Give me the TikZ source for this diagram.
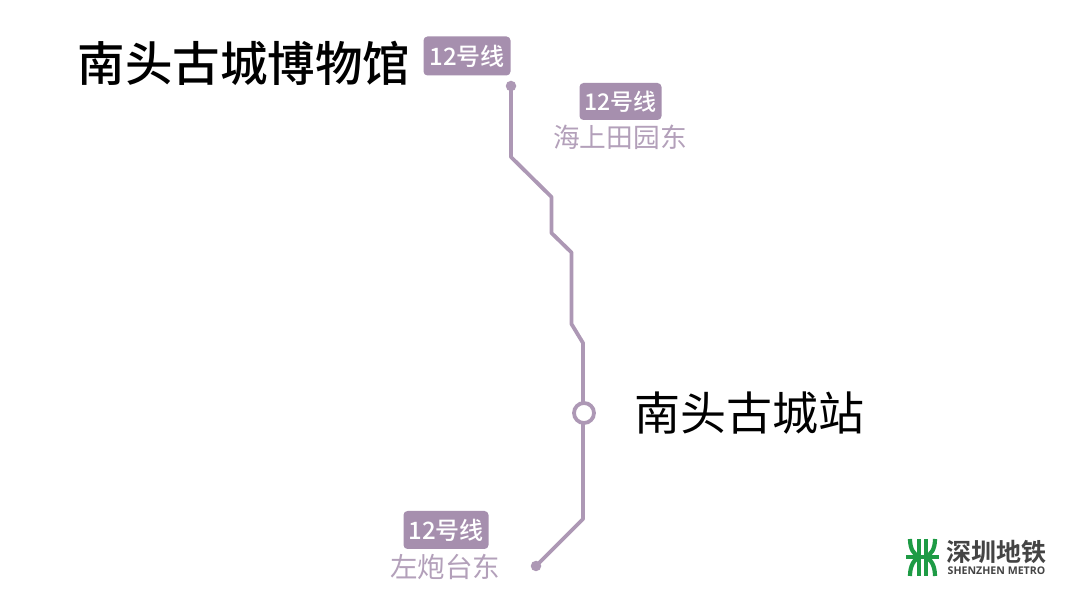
\documentclass[tikz,border=0pt]{standalone}
\usepackage{fontspec}
\setmainfont{Noto Sans CJK SC}
\newfontfamily\cjkmed{Noto Sans CJK SC Medium}
\newfontfamily\cjkbold{Noto Sans CJK SC Bold}
\newfontfamily\latinbold{Open Sans Bold}
\definecolor{linepurple}{HTML}{AD98B5}
\definecolor{badgepurple}{HTML}{A68FAE}
\definecolor{stationgrey}{HTML}{B3A0BA}
\definecolor{metrogreen}{HTML}{1E9B45}
\definecolor{metrogrey}{HTML}{444444}
\tikzset{
  x=1pt,y=-1pt,
  badge/.style={fill=badgepurple,rounded corners=4pt,text=white,font=\cjkmed\fontsize{24}{24}\selectfont,inner sep=0pt,anchor=center},
  stationname/.style={text=stationgrey,font=\fontsize{26.7}{27}\selectfont,inner sep=0pt,anchor=center},
  title/.style={text=black,inner sep=0pt,anchor=center},
  route/.style={draw=linepurple,line width=3.8pt,line join=round},
  endpoint/.style={circle,fill=linepurple,minimum size=10.5pt,inner sep=0pt},
  logostroke/.style={draw=metrogreen,line width=4.2pt}
}
\begin{document}
\begin{tikzpicture}
\useasboundingbox (0,0) rectangle (1080,593);
\fill[white] (0,0) rectangle (1080,593);
\node[title,font=\cjkmed\fontsize{47.5}{48}\selectfont] (museum) at (244,63) {南头古城博物馆};
\node[title,font=\fontsize{46}{46}\selectfont] (stationmain) at (749.5,413) {南头古城站};
\node[badge,minimum width=87pt,minimum height=39pt] (badgeA) at (467,56) {12号线};
\node[badge,minimum width=82pt,minimum height=37pt,font=\cjkmed\fontsize{23}{23}\selectfont] (badgeB) at (620.5,101.5) {12号线};
\node[stationname] (east) at (620,137) {海上田园东};
\node[badge,minimum width=85pt,minimum height=38pt] (badgeC) at (446,530) {12号线};
\node[stationname,font=\fontsize{27.5}{28}\selectfont] (west) at (445,566.5) {左炮台东};
\coordinate (a1) at (511,157);
\coordinate (a2) at (551.5,197);
\coordinate (a3) at (551.5,233);
\coordinate (a4) at (571.5,252.5);
\coordinate (a5) at (571.5,324);
\coordinate (a6) at (583,343);
\coordinate (a7) at (583,519);
\node[endpoint] (top) at (511,86) {};
\node[endpoint] (bottom) at (536,566) {};
\draw[route] (top.center) -- (a1) -- (a2) -- (a3) -- (a4) -- (a5) -- (a6) -- (a7) -- (bottom.center);
\node[circle,draw=linepurple,line width=3.8pt,fill=white,minimum size=20pt,inner sep=0pt] (here) at (584,413) {};
% logo
\draw[logostroke] (919,539) -- (919,576);
\draw[logostroke] (926,539) -- (926,576);
\draw[logostroke] (906,557) -- (939,557);
\draw[logostroke] (910,539) .. controls (910,549) and (914,555) .. (919,556);
\draw[logostroke] (935,539) .. controls (935,549) and (931,555) .. (926,556);
\draw[logostroke] (910,576) .. controls (910,566) and (914,559) .. (919,558);
\draw[logostroke] (935,576) .. controls (935,566) and (931,559) .. (926,558);
\node[inner sep=0pt,text=metrogrey,font=\cjkbold\fontsize{25}{25}\selectfont] (logocn) at (996.5,552) {深圳地铁};
\node[inner sep=0pt,text=metrogrey,font=\latinbold\fontsize{10.6}{11}\selectfont] (logoen) at (996.5,570.5) {SHENZHEN METRO};
\end{tikzpicture}
\end{document}
